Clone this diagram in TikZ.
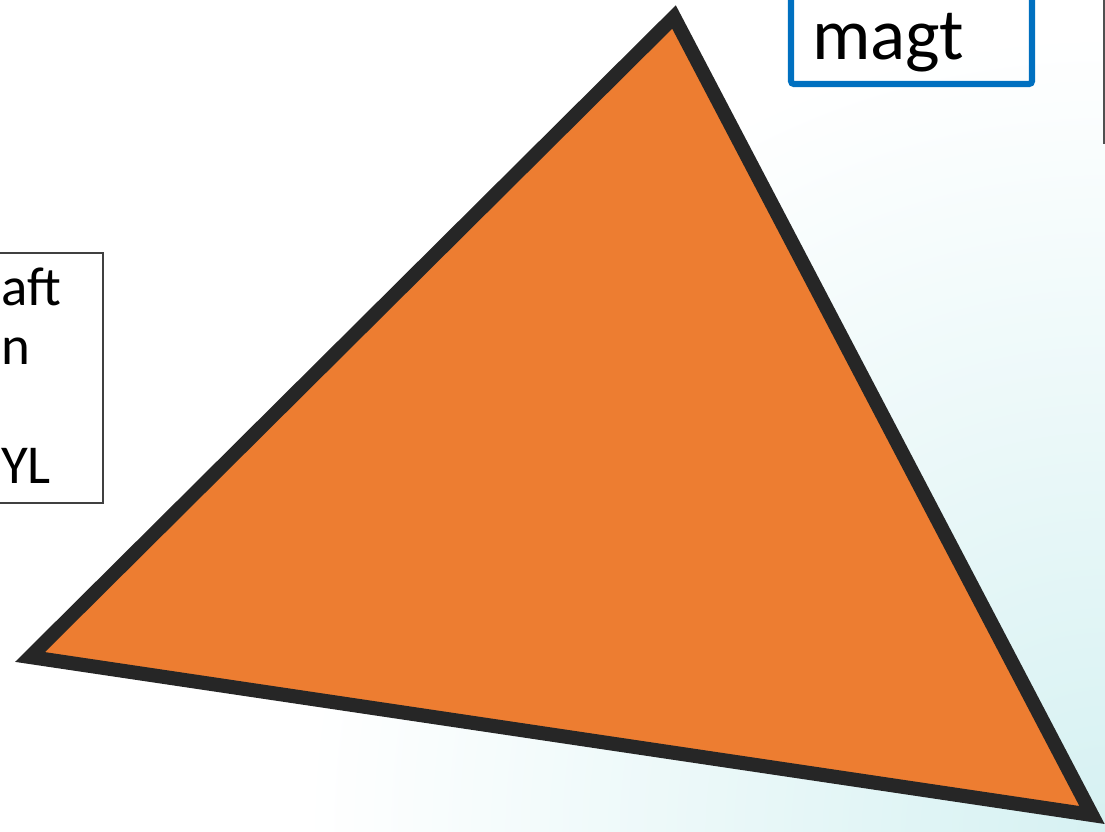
\documentclass[tikz,border=0pt]{standalone}
\usepackage{fontspec}
\setmainfont{Carlito}
\usetikzlibrary{positioning}
\definecolor{triorange}{HTML}{ED7D31}
\definecolor{triink}{HTML}{262626}
\definecolor{boxblue}{HTML}{0070C0}
\definecolor{bgcyan}{HTML}{D6F1F2}
\definecolor{ruleink}{HTML}{505050}

\begin{document}
\begin{tikzpicture}[x=.025cm,y=-.025cm,
    tri/.style={fill=triorange,draw=triink,line width=10pt,line join=miter},
    notebox/.style={draw=black!75,line width=.75pt},
    bluebox/.style={draw=boxblue,line width=4.3pt,rounded corners=2pt},
    bigtext/.style={font=\fontsize{52}{60}\selectfont,text=black,inner sep=0pt},
    notetext/.style={font=\fontsize{39}{42}\selectfont,text=black,inner sep=0pt,align=left}]
    \useasboundingbox (0,0) rectangle (1105,832);
    % backdrop
    \begin{scope}
      \clip (0,0) rectangle (1105,832);
      \shade[inner color=bgcyan,outer color=white] (1105,832) circle (800);
    \end{scope}
    % clipped note on the left
    \draw[notebox] (-20,253) rectangle (103,503);
    \node[notetext,anchor=north west] (note) at (1,268) {aft\\n\\[0pt]\\YL};
    % blue label box
    \draw[bluebox] (791,-40) rectangle (1032,84);
    \node[bigtext,anchor=base west] (magt) at (812,60) {magt};
    \draw[ruleink,line width=1.2pt] (1104,0) -- (1104,144);
    % the triangle
    \filldraw[tri] (674,17) -- (30,657) -- (1092,815) -- cycle;
  \end{tikzpicture}
\end{document}
